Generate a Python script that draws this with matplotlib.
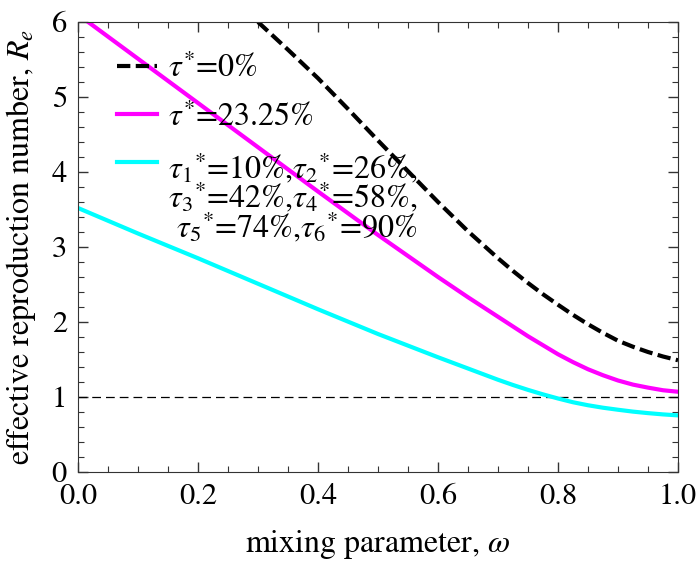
import matplotlib
matplotlib.use("Agg")
import matplotlib.pyplot as plt
from matplotlib.ticker import MultipleLocator

plt.rcParams["font.family"] = "STIXGeneral"
plt.rcParams["mathtext.fontset"] = "stix"

# tau* = 0% (black dashed)
omega_0 = [0.30, 0.35, 0.40, 0.45, 0.50, 0.55, 0.60, 0.65, 0.70, 0.725, 0.75, 0.775, 0.80,
           0.825, 0.85, 0.875, 0.90, 0.925, 0.95, 0.975, 1.00]
re_0 = [6.00, 5.63, 5.25, 4.84, 4.42, 4.01, 3.60, 3.21, 2.85, 2.68, 2.52, 2.37, 2.23,
        2.095, 1.97, 1.855, 1.75, 1.67, 1.60, 1.54, 1.49]

# tau* = 23.25% (magenta)
omega_opt = [0.00, 0.10, 0.20, 0.30, 0.40, 0.50, 0.55, 0.60, 0.65, 0.70, 0.75, 0.775, 0.80,
             0.825, 0.85, 0.875, 0.90, 0.925, 0.95, 0.975, 1.00]
re_opt = [6.10, 5.51, 4.92, 4.33, 3.74, 3.16, 2.88, 2.60, 2.33, 2.07, 1.81, 1.69, 1.57,
          1.465, 1.37, 1.29, 1.22, 1.165, 1.125, 1.09, 1.07]

# six-group schedule (cyan)
omega_six = [0.00, 0.10, 0.20, 0.30, 0.40, 0.50, 0.60, 0.65, 0.70, 0.725, 0.75, 0.775, 0.80,
             0.825, 0.85, 0.875, 0.90, 0.925, 0.95, 0.975, 1.00]
re_six = [3.52, 3.18, 2.85, 2.51, 2.17, 1.84, 1.53, 1.38, 1.23, 1.16, 1.095, 1.035, 0.98,
          0.93, 0.89, 0.857, 0.83, 0.805, 0.785, 0.768, 0.755]

threshold = 1.0

labels = [
    r"$\tau^{*}$=0%",
    r"$\tau^{*}$=23.25%",
    r"$\tau_1{}^{*}$=10%,$\tau_2{}^{*}$=26%," "\n"
    r"$\tau_3{}^{*}$=42%,$\tau_4{}^{*}$=58%," "\n"
    r" $\tau_5{}^{*}$=74%,$\tau_6{}^{*}$=90%",
]

fig = plt.figure(figsize=(6.98, 5.62), dpi=100)
ax = fig.add_axes([78 / 698, 1 - 472 / 562, 600 / 698, 450 / 562])

ax.axhline(threshold, color="black", lw=0.9, dashes=(7, 4))
ax.plot(omega_0, re_0, color="black", lw=3, dashes=(3.2, 1.3), label=labels[0])
ax.plot(omega_opt, re_opt, color="#ff00ff", lw=3, label=labels[1])
ax.plot(omega_six, re_six, color="#00ffff", lw=3, label=labels[2])

ax.set_xlim(0, 1)
ax.set_ylim(0, 6)
ax.xaxis.set_major_locator(MultipleLocator(0.2))
ax.xaxis.set_minor_locator(MultipleLocator(0.05))
ax.yaxis.set_major_locator(MultipleLocator(1))
ax.yaxis.set_minor_locator(MultipleLocator(0.2))
ax.set_xticks([0, 0.2, 0.4, 0.6, 0.8, 1.0], ["0.0", "0.2", "0.4", "0.6", "0.8", "1.0"])
ax.tick_params(which="both", direction="in", top=True, right=True, labelsize=22, color="#333333")
ax.tick_params(which="major", length=7, width=1)
ax.tick_params(which="minor", length=4, width=0.8)
ax.tick_params(axis="x", pad=8)
ax.tick_params(axis="y", pad=8)
for s in ax.spines.values():
    s.set_color("#333333")

ax.set_xlabel(r"mixing parameter, $\omega$", fontsize=23, labelpad=12)
ax.set_ylabel(r"effective reproduction number, $R_e$", fontsize=23, labelpad=10)

leg = ax.legend(loc="upper left", frameon=False, fontsize=23, handlelength=1.25,
                handletextpad=0.35, labelspacing=0.56, borderaxespad=0, borderpad=0,
                bbox_to_anchor=(0.065, 0.93))
for t in leg.get_texts():
    t.set_linespacing(0.82)
# keep the handle of the three-line entry next to its first line
for col in leg._legend_handle_box.get_children():
    rows = col.get_children()
    rows[-1].align = "top"

fig.savefig("out.png", dpi=100)
